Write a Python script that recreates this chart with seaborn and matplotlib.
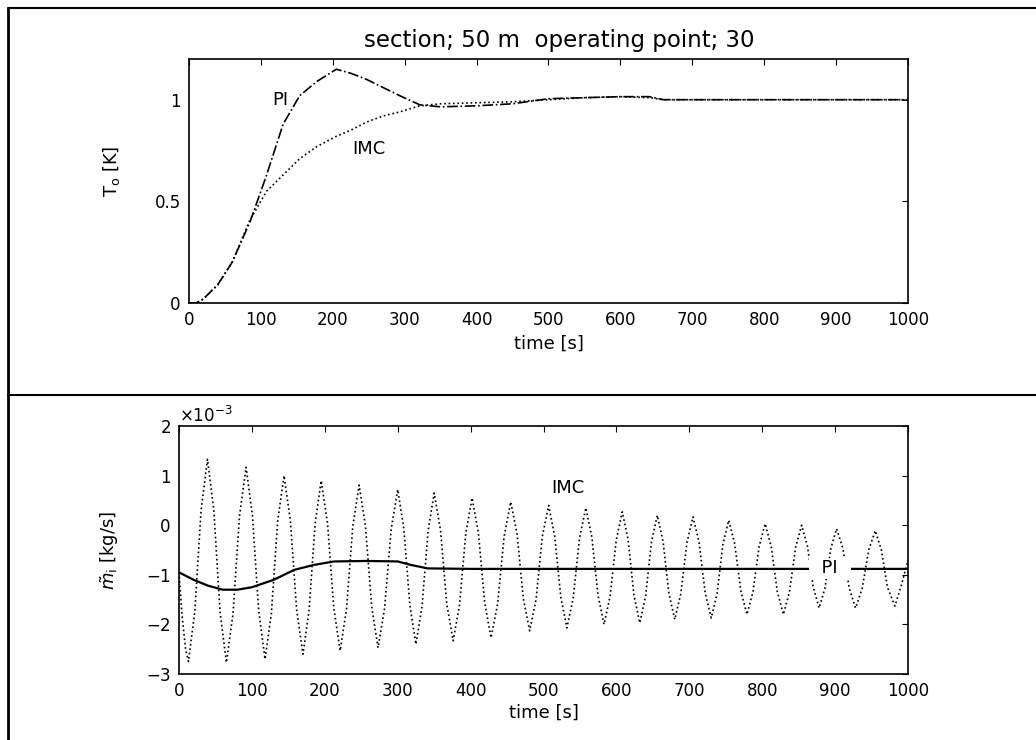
import numpy as np
import pandas as pd
import seaborn as sns
import matplotlib.pyplot as plt
from matplotlib.lines import Line2D

sns.set_style("white")
plt.rcParams['font.family'] = ['DejaVu Sans']
plt.rcParams['mathtext.fontset'] = 'dejavusans'
for k in ['text.color', 'axes.labelcolor', 'xtick.color', 'ytick.color']:
    plt.rcParams[k] = 'black'

# top panel: outlet temperature step response
t_top = [0, 10, 20, 40, 60, 85, 108, 131, 154, 178, 205, 225, 247, 270, 293, 321,
         350, 400, 450, 500, 550, 600, 640, 660, 700, 1000]
pi_top = [0, 0, 0.02, 0.09, 0.2, 0.40, 0.63, 0.88, 1.02, 1.09, 1.15, 1.13, 1.10, 1.06,
          1.02, 0.975, 0.965, 0.97, 0.98, 1.005, 1.01, 1.015, 1.015, 1.0, 1.0, 1.0]
imc_top = [0, 0, 0.02, 0.09, 0.2, 0.41, 0.55, 0.63, 0.71, 0.77, 0.82, 0.85, 0.89, 0.92,
           0.94, 0.97, 0.98, 0.985, 0.99, 1.0, 1.01, 1.015, 1.01, 1.0, 1.0, 1.0]

# bottom panel: manipulated mass flow (x 1e-3 kg/s)
t_pi_bot = [0, 20, 40, 60, 80, 100, 130, 158, 185, 213, 258, 300, 318, 341, 400, 1000]
pi_bot = [-0.95, -1.1, -1.22, -1.3, -1.3, -1.25, -1.1, -0.9, -0.8, -0.73, -0.72,
          -0.73, -0.8, -0.87, -0.88, -0.88]

t_imc_bot = [0, 4, 9, 13, 21.7, 30.3, 39, 47.7, 56.3, 65, 74, 83, 92, 100.7, 109.3, 118,
             126.7, 135.3, 144, 152.7, 161.3, 170, 178.3, 186.7, 195, 203.7, 212.3, 221,
             229.7, 238.3, 247, 255.7, 264.3, 273, 282, 291, 300, 308.3, 316.7, 325,
             333.3, 341.7, 350, 358.7, 367.3, 376, 384.7, 393.3, 402, 410.7, 419.3, 428,
             437, 446, 455, 463.7, 472.3, 481, 489.7, 498.3, 507, 515.3, 523.7, 532,
             540.7, 549.3, 558, 566.3, 574.7, 583, 591.3, 599.7, 608, 616, 624, 632,
             640, 648, 656, 664, 672, 680, 688.3, 696.7, 705, 713.3, 721.7, 730,
             738, 746, 754, 762.3, 770.7, 779, 787.3, 795.7, 804, 812.3, 820.7, 829,
             837.3, 845.7, 854, 862, 870, 878, 886, 894, 902, 910.7, 919.3, 928,
             937, 946, 955, 963.3, 971.7, 982, 991, 1000]
imc_bot = [-0.95, -1.8, -2.5, -2.75, -1.73, 0.31, 1.33, 0.31, -1.75, -2.77, -1.79, 0.19,
           1.17, 0.20, -1.73, -2.7, -1.78, 0.08, 1.0, 0.1, -1.7, -2.6, -1.73, 0.03,
           0.9, 0.04, -1.67, -2.53, -1.70, -0.03, 0.81, -0.01, -1.65, -2.47, -1.67, -0.08,
           0.72, -0.06, -1.62, -2.4, -1.64, -0.11, 0.65, -0.10, -1.59, -2.33, -1.61, -0.17,
           0.55, -0.16, -1.57, -2.27, -1.59, -0.22, 0.47, -0.18, -1.48, -2.13, -1.50, -0.23,
           0.40, -0.22, -1.45, -2.07, -1.47, -0.26, 0.35, -0.24, -1.41, -2.0, -1.43, -0.30,
           0.27, -0.29, -1.41, -1.97, -1.43, -0.34, 0.2, -0.33, -1.38, -1.9, -1.38, -0.35,
           0.17, -0.34, -1.36, -1.87, -1.38, -0.39, 0.1, -0.38, -1.33, -1.8, -1.34, -0.43,
           0.03, -0.43, -1.34, -1.8, -1.35, -0.45, 0.0, -0.42, -1.25, -1.67, -1.27, -0.47,
           -0.07, -0.47, -1.27, -1.67, -1.28, -0.50, -0.11, -0.49, -1.25, -1.63, -1.2, -0.7]

top = pd.DataFrame({'t': t_top, 'PI': pi_top, 'IMC': imc_top})
bot_pi = pd.DataFrame({'t': t_pi_bot, 'm': np.array(pi_bot) * 1e-3})
bot_imc = pd.DataFrame({'t': t_imc_bot, 'm': np.array(imc_bot) * 1e-3})

fig = plt.figure(figsize=(10.36, 7.40), dpi=100)
ax1 = fig.add_axes([0.1824, 0.5905, 0.694, 0.3297])
ax2 = fig.add_axes([0.1728, 0.0892, 0.7037, 0.335])

sns.lineplot(data=top, x='t', y='PI', ax=ax1, color='black', lw=1.2, linestyle='-.')
sns.lineplot(data=top, x='t', y='IMC', ax=ax1, color='black', lw=1.2, linestyle=':')
ax1.set_xlim(0, 1000)
ax1.set_ylim(0, 1.2)
ax1.set_xticks(range(0, 1001, 100))
ax1.set_yticks([0, 0.5, 1])
ax1.set_yticklabels(['0', '0.5', '1'])
ax1.set_title('section; 50 m  operating point; 30', fontsize=16.5, pad=9, x=0.515)
ax1.set_xlabel('time [s]', fontsize=13)
ax1.set_ylabel(r'T$_{\rm o}$ [K]', fontsize=13)
ax1.xaxis.set_label_coords(0.5, -0.13)
ax1.yaxis.set_label_coords(-0.093, 0.54)
ax1.text(127, 1.0, 'PI', fontsize=13, ha='center', va='center')
ax1.text(250, 0.76, 'IMC', fontsize=13, ha='center', va='center')

sns.lineplot(data=bot_imc, x='t', y='m', ax=ax2, color='black', lw=1.2, linestyle=':')
sns.lineplot(data=bot_pi, x='t', y='m', ax=ax2, color='black', lw=1.6)
ax2.set_xlim(0, 1000)
ax2.set_ylim(-3e-3, 2e-3)
ax2.set_xticks(range(0, 1001, 100))
ax2.set_yticks(np.arange(-3, 3) * 1e-3)
ax2.ticklabel_format(axis='y', style='sci', scilimits=(-3, -3), useMathText=True)
ax2.yaxis.get_offset_text().set_fontsize(12)
ax2.set_xlabel('time [s]', fontsize=13)
ax2.set_ylabel(r'$\tilde{m}_{\rm i}$ [kg/s]', fontsize=13)
ax2.xaxis.set_label_coords(0.5, -0.12)
ax2.yaxis.set_label_coords(-0.08, 0.5)
ax2.text(533, 0.75e-3, 'IMC', fontsize=13, ha='center', va='center')
ax2.text(893, -0.87e-3, '  PI  ', fontsize=13, ha='center', va='center',
         bbox=dict(facecolor='white', edgecolor='none', pad=1))

for ax in (ax1, ax2):
    ax.tick_params(direction='in', top=True, right=True, labelsize=12, pad=6, length=4)
    for s in ax.spines.values():
        s.set_color('black')
        s.set_linewidth(1.2)

# table borders around the two cells
for xs, ys, lw in [([0.0077, 1.0], [0.989, 0.989], 1.5),
                   ([0.0077, 0.0077], [0.989, 0.0], 2.0),
                   ([0.0077, 1.0], [0.466, 0.466], 1.5)]:
    fig.add_artist(Line2D(xs, ys, transform=fig.transFigure, color='black', lw=lw))

fig.savefig('out.png', dpi=100)
